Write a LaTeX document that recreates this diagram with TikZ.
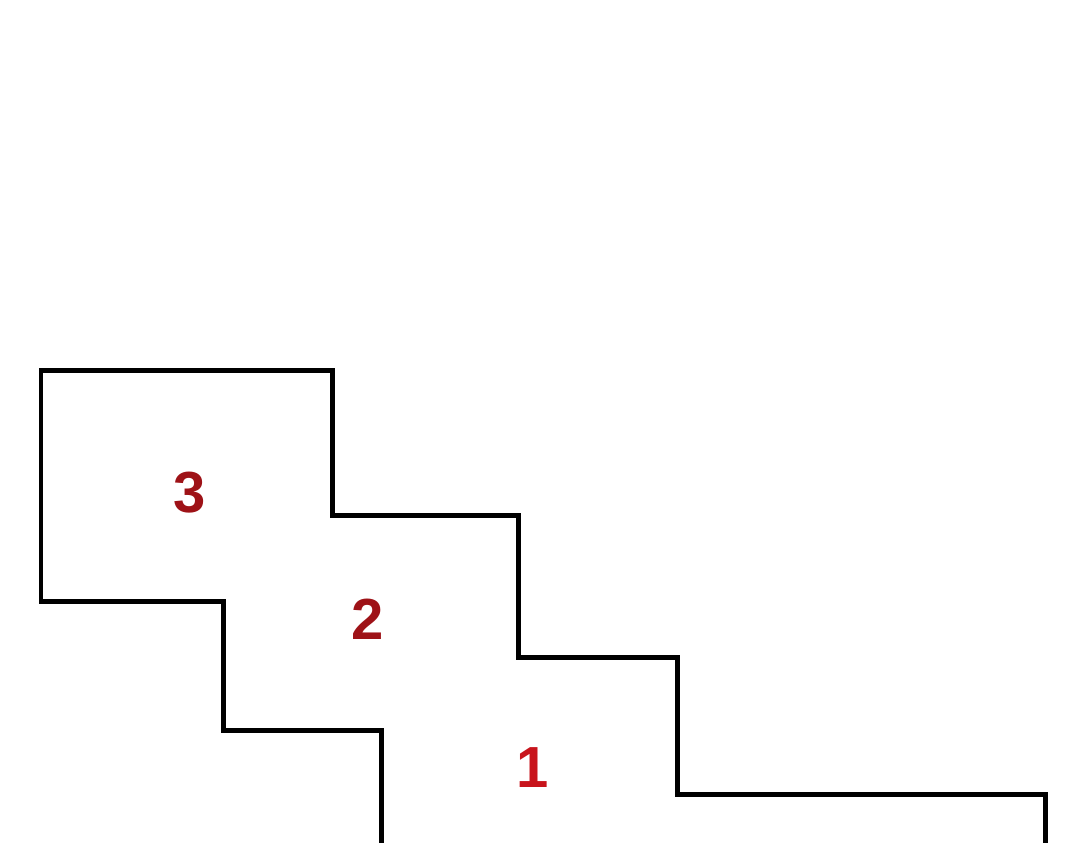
\documentclass[tikz,border=0pt]{standalone}
\usepackage{fontspec}
\setmainfont{Liberation Sans}
\definecolor{darkred}{HTML}{9E1217}
\definecolor{brightred}{HTML}{C8141C}
\begin{document}
\begin{tikzpicture}[x=0.02cm,y=-0.02cm,
  outline/.style={line width=0.1cm, line join=miter, black},
  lbl/.style={font=\fontsize{33}{33}\selectfont\bfseries, inner sep=0pt}]
\useasboundingbox (0,0) rectangle (1080,843);
\fill[white] (0,0) rectangle (1080,843);
\draw[outline] (381,850) -- (381,730) -- (223,730) -- (223,601) -- (41,601) -- (41,370)
  -- (332,370) -- (332,515) -- (518,515) -- (518,657) -- (677,657) -- (677,794)
  -- (1045,794) -- (1045,850);
\node[lbl, text=darkred] (n3) at (190,493) {3};
\node[lbl, text=darkred] (n2) at (368,619) {2};
\node[lbl, text=brightred] (n1) at (533,768) {1};
\end{tikzpicture}
\end{document}
